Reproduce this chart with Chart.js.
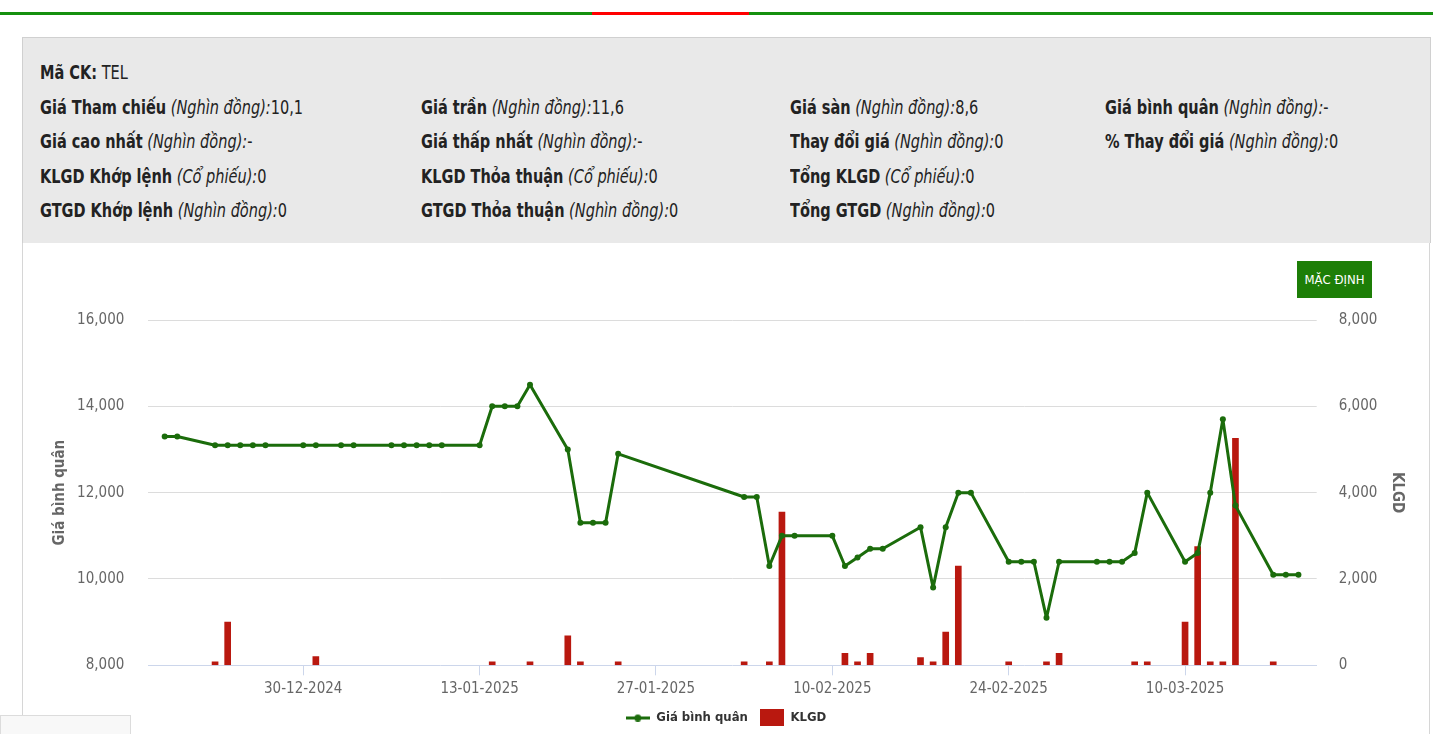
<!DOCTYPE html>
<html lang="vi">
<head>
<meta charset="UTF-8">
<title>TEL</title>
<script src="https://cdn.jsdelivr.net/npm/chart.js/dist/chart.umd.min.js"></script>
<style>
  body { margin:0; width:1433px; height:734px; overflow:hidden; background:#fff; position:relative;
         font-family:'DejaVu Sans Condensed','Liberation Sans Narrow',sans-serif; color:#222; }
  .topbar { position:absolute; left:0; top:12px; width:1433px; height:3px; background:#15900f; }
  .topbar span { position:absolute; left:592px; top:0; width:157px; height:3px; background:#ff0000; }
  .panel { position:absolute; left:22px; top:37px; width:1406px; height:700px; border-left:1px solid #d6d6d6; border-right:1px solid #d6d6d6; }
  .info { position:absolute; left:22px; top:37px; width:1407px; height:205px; background:#e9e9e9; border:1px solid #d0d0d0; border-bottom:none; }
  .row { position:absolute; font-size:19px; line-height:22px; white-space:nowrap; transform:scaleX(0.85); transform-origin:0 50%; }
  .row b { font-weight:bold; }
  .row i { font-style:italic; }
  #wrap { position:absolute; left:22px; top:244px; width:1408px; height:490px; }
  .btn { position:absolute; left:1297px; top:261px; width:75px; height:37px; background:#1d7e07; color:#fff;
         font-size:13px; line-height:37px; text-align:center; }
  .corner { position:absolute; left:0; top:715px; width:129px; height:30px; background:#f8f8f8; border:1px solid #dcdcdc; }
</style>
</head>
<body>
<div class="topbar"><span></span></div>
<div class="panel"></div>
<div class="info"></div>

<div class="row" style="left:40px;top:61px"><b>Mã CK:</b> TEL</div>

<div class="row" style="left:40px;top:96px"><b>Giá Tham chiếu</b> <i>(Nghìn đồng):</i>10,1</div>
<div class="row" style="left:421px;top:96px"><b>Giá trần</b> <i>(Nghìn đồng):</i>11,6</div>
<div class="row" style="left:790px;top:96px"><b>Giá sàn</b> <i>(Nghìn đồng):</i>8,6</div>
<div class="row" style="left:1105px;top:96px"><b>Giá bình quân</b> <i>(Nghìn đồng):</i>-</div>

<div class="row" style="left:40px;top:130px"><b>Giá cao nhất</b> <i>(Nghìn đồng):</i>-</div>
<div class="row" style="left:421px;top:130px"><b>Giá thấp nhất</b> <i>(Nghìn đồng):</i>-</div>
<div class="row" style="left:790px;top:130px"><b>Thay đổi giá</b> <i>(Nghìn đồng):</i>0</div>
<div class="row" style="left:1105px;top:130px"><b>% Thay đổi giá</b> <i>(Nghìn đồng):</i>0</div>

<div class="row" style="left:40px;top:165px"><b>KLGD Khớp lệnh</b> <i>(Cổ phiếu):</i>0</div>
<div class="row" style="left:421px;top:165px"><b>KLGD Thỏa thuận</b> <i>(Cổ phiếu):</i>0</div>
<div class="row" style="left:790px;top:165px"><b>Tổng KLGD</b> <i>(Cổ phiếu):</i>0</div>

<div class="row" style="left:40px;top:199px"><b>GTGD Khớp lệnh</b> <i>(Nghìn đồng):</i>0</div>
<div class="row" style="left:421px;top:199px"><b>GTGD Thỏa thuận</b> <i>(Nghìn đồng):</i>0</div>
<div class="row" style="left:790px;top:199px"><b>Tổng GTGD</b> <i>(Nghìn đồng):</i>0</div>

<div id="wrap"><canvas id="chart" width="1408" height="490"></canvas></div>
<div class="btn">MẶC ĐỊNH</div>
<div class="corner"></div>

<script>
// trading days
const dates = [
  '19-12-2024','20-12-2024','23-12-2024','24-12-2024','25-12-2024','26-12-2024','27-12-2024',
  '30-12-2024','31-12-2024','02-01-2025','03-01-2025','06-01-2025','07-01-2025','08-01-2025',
  '09-01-2025','10-01-2025','13-01-2025','14-01-2025','15-01-2025','16-01-2025','17-01-2025',
  '20-01-2025','21-01-2025','22-01-2025','23-01-2025','24-01-2025','03-02-2025','04-02-2025',
  '05-02-2025','06-02-2025','07-02-2025','10-02-2025','11-02-2025','12-02-2025','13-02-2025',
  '14-02-2025','17-02-2025','18-02-2025','19-02-2025','20-02-2025','21-02-2025','24-02-2025',
  '25-02-2025','26-02-2025','27-02-2025','28-02-2025','03-03-2025','04-03-2025','05-03-2025',
  '06-03-2025','07-03-2025','10-03-2025','11-03-2025','12-03-2025','13-03-2025','14-03-2025',
  '17-03-2025','18-03-2025','19-03-2025'
];
// Giá bình quân
const avgPrice = [
  13300,13300,13100,13100,13100,13100,13100,
  13100,13100,13100,13100,13100,13100,13100,
  13100,13100,13100,14000,14000,14000,14500,
  13000,11300,11300,11300,12900,11900,11900,
  10300,11000,11000,11000,10300,10500,10700,
  10700,11200,9800,11200,12000,12000,10400,
  10400,10400,9100,10400,10400,10400,10400,
  10600,12000,10400,10600,12000,13700,11700,
  10100,10100,10100
];
// KLGD
const volume = [
  0,0,80,1000,0,0,0,
  0,200,0,0,0,0,0,
  0,0,0,80,0,0,80,
  680,80,0,0,80,80,0,
  80,3550,0,0,280,80,280,
  0,180,80,770,2300,0,80,
  0,0,80,280,0,0,0,
  80,80,1000,2750,80,80,5260,
  80,0,0
];
const xTickDates = ['30-12-2024','13-01-2025','27-01-2025','10-02-2025','24-02-2025','10-03-2025'];

const lineColor = '#1b6c0b';
const barColor = '#b9180f';
const fontFamily = "'DejaVu Sans Condensed','Liberation Sans Narrow',sans-serif";

const base = Date.UTC(2024, 11, 30);
function toDay(s) {
  const [d, m, y] = s.split('-').map(Number);
  return (Date.UTC(y, m - 1, d) - base) / 86400000;
}
function pad(n) { return n < 10 ? '0' + n : '' + n; }
function fromDay(v) {
  const t = new Date(base + Math.round(v) * 86400000);
  return pad(t.getUTCDate()) + '-' + pad(t.getUTCMonth() + 1) + '-' + t.getUTCFullYear();
}

function makeIcon(w, h, draw) {
  const c = document.createElement('canvas');
  c.width = w; c.height = h;
  draw(c.getContext('2d'));
  return c;
}
const lineIcon = makeIcon(24, 8, g => {
  g.fillStyle = lineColor;
  g.fillRect(0, 3, 24, 3);
  g.beginPath(); g.arc(12, 4.5, 3.5, 0, Math.PI * 2); g.fill();
});
const boxIcon = makeIcon(24, 17, g => {
  g.fillStyle = barColor;
  g.fillRect(0, 0, 24, 17);
});

Chart.defaults.font.family = fontFamily;

const ctx = document.getElementById('chart');
const chart = new Chart(ctx, {
  type: 'bar',
  data: {
    datasets: [
      {
        type: 'line',
        label: 'Giá bình quân',
        data: dates.map((d, i) => ({ x: toDay(d), y: avgPrice[i] })),
        yAxisID: 'y',
        borderColor: lineColor,
        backgroundColor: lineColor,
        borderWidth: 3,
        borderJoinStyle: 'round',
        pointRadius: 3,
        pointBorderWidth: 0,
        tension: 0
      },
      {
        type: 'bar',
        label: 'KLGD',
        // days without trades have no bar
        data: dates.map((d, i) => ({ x: toDay(d), y: volume[i] || null })),
        yAxisID: 'y1',
        backgroundColor: barColor,
        barThickness: 6
      }
    ]
  },
  options: {
    responsive: false,
    animation: false,
    events: [],
    layout: { padding: { top: 76, left: 0, right: 0, bottom: 0 } },
    plugins: {
      tooltip: { enabled: false },
      legend: {
        position: 'bottom',
        labels: {
          usePointStyle: true,
          pointStyleWidth: 24,
          padding: 12,
          color: '#333',
          font: { size: 13, weight: 'bold' },
          generateLabels: c => {
            const items = Chart.defaults.plugins.legend.labels.generateLabels(c);
            items[0].pointStyle = lineIcon;
            items[1].pointStyle = boxIcon;
            return items;
          }
        }
      }
    },
    scales: {
      x: {
        type: 'linear',
        offset: false,
        min: -12.3,
        max: 80.45,
        afterBuildTicks: s => { s.ticks = xTickDates.map(d => ({ value: toDay(d) })); },
        afterFit: s => { s.height = 33.7; },
        grid: { offset: false, drawOnChartArea: false, drawTicks: true, tickLength: 10, color: '#ccd6eb' },
        border: { color: '#ccd6eb', width: 1 },
        ticks: { callback: v => fromDay(v), color: '#666', font: { size: 15 }, padding: 5, maxRotation: 0, autoSkip: false }
      },
      y: {
        position: 'left',
        min: 8000,
        max: 16000,
        afterFit: s => { s.width = 126.3; },
        ticks: { stepSize: 2000, color: '#666', font: { size: 15 }, padding: 24,
                 callback: v => v.toLocaleString('en-US') },
        grid: { drawTicks: false, color: c => c.tick && c.tick.value === 8000 ? 'rgba(0,0,0,0)' : '#dcdcdc' },
        border: { display: false },
        title: { display: true, text: 'Giá bình quân', color: '#666', font: { size: 15, weight: 'bold' }, padding: { top: 29 } }
      },
      y1: {
        position: 'right',
        min: 0,
        max: 8000,
        afterFit: s => { s.width = 113.3; },
        ticks: { stepSize: 2000, color: '#666', font: { size: 15 }, padding: 22,
                 callback: v => v.toLocaleString('en-US') },
        grid: { drawOnChartArea: false, drawTicks: false },
        border: { display: false },
        title: { display: true, text: 'KLGD', color: '#666', font: { size: 15, weight: 'bold' }, padding: { top: 24 } }
      }
    }
  }
});
</script>
</body>
</html>
